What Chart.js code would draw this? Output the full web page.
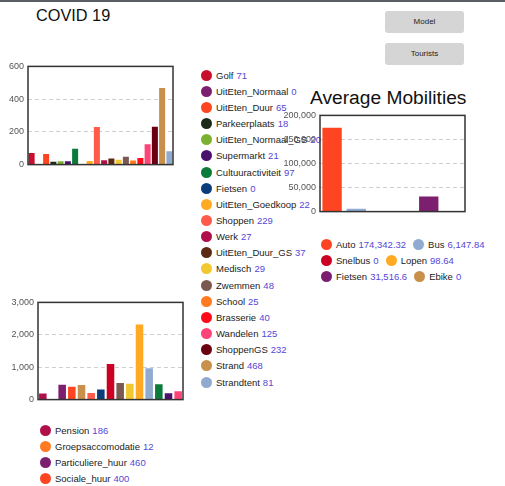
<!DOCTYPE html>
<html>
<head>
<meta charset="utf-8">
<script src="https://cdn.jsdelivr.net/npm/chart.js@4.4.0/dist/chart.umd.min.js"></script>
<style>
body{margin:0;width:505px;height:486px;overflow:hidden;background:#fff;font-family:"Liberation Sans",Arial,sans-serif;position:relative}
#topline{position:absolute;left:0;top:0;width:505px;height:2px;background:#5a5d62}
h1{position:absolute;left:36px;top:6px;margin:0;font-size:16.3px;font-weight:normal;color:#111}
h2{position:absolute;left:310px;top:87px;margin:0;font-size:19.2px;font-weight:normal;color:#111}
.btn{position:absolute;left:385px;width:79px;height:22px;background:#d5d5d5;border-radius:3px;font-size:8px;color:#222;text-align:center;line-height:22px}
canvas{position:absolute}
.legend{position:absolute;font-size:9.5px;color:#222}
.legend .item{display:flex;align-items:center;height:16.17px;white-space:nowrap}
.legend .dot{width:11px;height:11px;border-radius:50%;margin-right:4px;flex:none}
.legend .val{color:#5547d6;margin-left:3px}
#leg3{display:flex;flex-wrap:wrap;width:180px;column-gap:7px}
#leg3 .item{height:15.8px}
</style>
</head>
<body>
<div id="topline"></div>
<h1>COVID 19</h1>
<div class="btn" style="top:11px">Model</div>
<div class="btn" style="top:43px">Tourists</div>

<canvas id="actChart" width="180" height="117" style="left:0;top:57px"></canvas>
<div class="legend" id="leg1" style="left:201px;top:67px"></div>

<canvas id="stayChart" width="190" height="116" style="left:0;top:293px"></canvas>
<div class="legend" id="leg2" style="left:40px;top:422px"></div>

<h2>Average Mobilities</h2>
<canvas id="mobChart" width="190" height="115" style="left:280px;top:106px"></canvas>
<div class="legend" id="leg3" style="left:321px;top:237px"></div>

<script>
// activiteiten
const actLabels=["Golf","UitEten_Normaal","UitEten_Duur","Parkeerplaats","UitEten_Normaal_GS","Supermarkt","Cultuuractiviteit","Fietsen","UitEten_Goedkoop","Shoppen","Werk","UitEten_Duur_GS","Medisch","Zwemmen","School","Brasserie","Wandelen","ShoppenGS","Strand","Strandtent"];
const actValues=[71,0,65,18,20,21,97,0,22,229,27,37,29,48,25,40,125,232,468,81];
const actColors=["#c8102e","#7b1f6e","#ff4422","#1c2a1c","#7cb030","#4b0f6e","#0b7a3a","#0a3d7a","#ffaa22","#ff5a4a","#b0104a","#5a2a12","#f2c830","#7a5a50","#ff7a20","#ff0a1a","#ff4477","#6a0010","#c8904a","#90aad0"];

// verblijf
const stayLabels=["Pension","Groepsaccomodatie","Particuliere_huur","Sociale_huur","Hotel","Appartement","Bungalowpark","Camping","Vakantiewoning","B&B","Tweede_woning","Chalet","Jachthaven","Hostel","Familie"];
const stayValues=[186,12,460,400,450,205,310,1100,510,490,2320,970,475,195,255];
const stayColors=["#b0104a","#ff7a20","#7b1f6e","#ff4422","#c8904a","#ff5a4a","#0a3d7a","#cc0022","#7a5a50","#f2c830","#ffaa22","#90aad0","#0b7a3a","#4b0f6e","#ff4477"];

// mobiliteit
const mobLabels=["Auto","Bus","Snelbus","Lopen","Fietsen","Ebike"];
const mobValues=[174342.32,6147.84,0,98.64,31516.6,0];
const mobColors=["#ff4422","#90aad0","#cc0022","#ffaa22","#7b1f6e","#c8904a"];

Chart.defaults.font.family='"Liberation Sans", Arial, sans-serif';
Chart.defaults.font.size=9;
Chart.defaults.color="#555";

const boxPlugin={id:"box",afterDraw(chart){
  const a=chart.chartArea, ctx=chart.ctx;
  ctx.save(); ctx.strokeStyle="#333"; ctx.lineWidth=1.5;
  ctx.strokeRect(a.left,a.top,a.right-a.left,a.bottom-a.top);
  ctx.restore();
}};

function makeChart(id,labels,values,colors,max,step,yWidth,pad,barPct){
  return new Chart(document.getElementById(id),{
    type:"bar",
    data:{labels,datasets:[{data:values,backgroundColor:colors,borderWidth:0,barPercentage:barPct,categoryPercentage:1}]},
    options:{
      responsive:false,animation:false,
      layout:{padding:pad},
      plugins:{legend:{display:false},tooltip:{enabled:false}},
      scales:{
        x:{ticks:{display:false},grid:{display:false},border:{display:false},afterFit(s){s.height=0;}},
        y:{min:0,max:max,ticks:{stepSize:step,padding:4,color:"#555"},
           grid:{color:"#cfcfcf",drawTicks:false,lineWidth:1},
           border:{display:false,dash:[4,3]},
           afterFit(s){s.width=yWidth;}}
      }
    },
    plugins:[boxPlugin]
  });
}

makeChart("actChart",actLabels,actValues,actColors,600,200,28,{top:6,right:7,bottom:7,left:0},0.83);
makeChart("stayChart",stayLabels,stayValues,stayColors,3000,1000,38,{top:6,right:7,bottom:7,left:0},0.78);
makeChart("mobChart",mobLabels,mobValues,mobColors,200000,50000,40,{top:5,right:5,bottom:8,left:0},0.8);

function fillLegend(id,labels,values,colors){
  const el=document.getElementById(id);
  labels.forEach((l,i)=>{
    const it=document.createElement("div"); it.className="item";
    it.innerHTML=`<span class="dot" style="background:${colors[i]}"></span><span>${l}</span><span class="val">${values[i].toLocaleString("en-US")}</span>`;
    el.appendChild(it);
  });
}
fillLegend("leg1",actLabels,actValues,actColors);
fillLegend("leg2",stayLabels,stayValues,stayColors);
fillLegend("leg3",mobLabels,mobValues,mobColors);
</script>
</body>
</html>
